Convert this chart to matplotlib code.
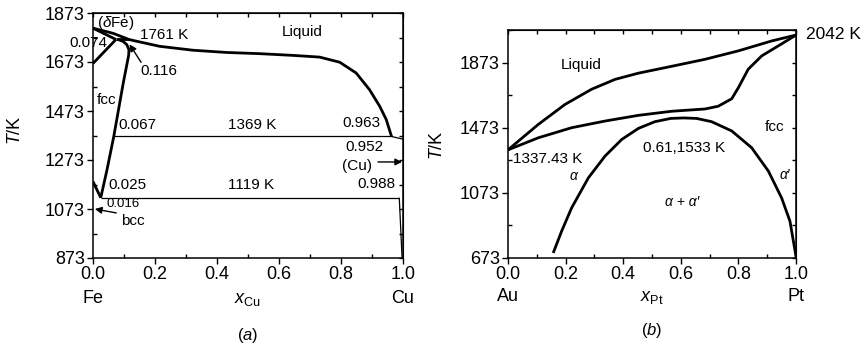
import matplotlib
matplotlib.use("Agg")
import matplotlib.pyplot as plt
from matplotlib.ticker import MultipleLocator, FixedLocator

plt.rcParams['font.family'] = ['Liberation Sans', 'DejaVu Sans']
plt.rcParams['mathtext.fontset'] = 'custom'
plt.rcParams['mathtext.rm'] = 'Liberation Sans'
plt.rcParams['mathtext.it'] = 'Liberation Sans:italic'
plt.rcParams['mathtext.bf'] = 'Liberation Sans:bold'

# ---------------- (a) Fe-Cu ----------------
fecu_liq_x = [0.0, 0.065, 0.116, 0.129, 0.215, 0.323, 0.43, 0.538, 0.645, 0.731, 0.796,
              0.849, 0.892, 0.925, 0.946, 0.963]
fecu_liq_T = [1811, 1790, 1765, 1761, 1737, 1721, 1712, 1707, 1700, 1693, 1672,
              1628, 1560, 1492, 1438, 1369]
fecu_liqcu_x = [0.963, 1.0]
fecu_liqcu_T = [1369, 1358]
fecu_dsol_x = [0.0, 0.074]
fecu_dsol_T = [1811, 1765]
fecu_dg_x = [0.0, 0.074]
fecu_dg_T = [1667, 1765]
fecu_perit_x = [0.074, 0.116]
fecu_perit_T = [1765, 1765]
fecu_fcc_x = [0.080, 0.097, 0.109, 0.116, 0.115, 0.098, 0.067, 0.045, 0.025]
fecu_fcc_T = [1765, 1757, 1744, 1723, 1700, 1590, 1369, 1232, 1119]
fecu_bcc_x = [0.0, 0.025]
fecu_bcc_T = [1185, 1119]
fecu_eut_x = [0.025, 0.988]
fecu_eut_T = [1119, 1119]
fecu_p2_x = [0.067, 0.963]
fecu_p2_T = [1369, 1369]
fecu_cusolv_x = [0.988, 0.997]
fecu_cusolv_T = [1119, 873]

# ---------------- (b) Au-Pt ----------------
aupt_liq_x = [0.0, 0.105, 0.198, 0.29, 0.372, 0.453, 0.568, 0.684, 0.8, 0.916, 1.0]
aupt_liq_T = [1337, 1493, 1616, 1709, 1770, 1808, 1850, 1893, 1945, 2006, 2042]
aupt_sol_x = [0.0, 0.105, 0.221, 0.337, 0.453, 0.568, 0.684, 0.73, 0.777, 0.8, 0.834,
              0.881, 0.939, 1.0]
aupt_sol_T = [1337, 1411, 1473, 1514, 1549, 1574, 1588, 1605, 1651, 1719, 1832,
              1914, 1976, 2042]
aupt_gap_x = [0.157, 0.186, 0.221, 0.279, 0.337, 0.395, 0.453, 0.51, 0.565, 0.61, 0.655,
              0.707, 0.777, 0.846, 0.904, 0.95, 0.979, 0.997, 1.0]
aupt_gap_T = [704, 837, 981, 1165, 1299, 1401, 1469, 1510, 1530, 1533, 1530,
              1510, 1453, 1350, 1207, 1042, 899, 714, 680]

THICK = 2.0
THIN = 0.9
TICKFS = 13
ANNFS = 11

fig = plt.figure(figsize=(8.68, 3.46), dpi=100)
ax1 = fig.add_axes([93/868, 88/346, 310/868, 245/346])
ax2 = fig.add_axes([508/868, 88/346, 288/868, 228/346])


def style_axes(ax, ymajor, yminor, ymirror):
    for s in ax.spines.values():
        s.set_linewidth(1.1)
    ax.set_xlim(0, 1)
    ax.xaxis.set_major_locator(FixedLocator([0.0, 0.2, 0.4, 0.6, 0.8, 1.0]))
    ax.xaxis.set_minor_locator(FixedLocator([0.1, 0.3, 0.5, 0.7, 0.9]))
    ax.set_xticklabels(['0.0', '0.2', '0.4', '0.6', '0.8', '1.0'])
    ax.yaxis.set_major_locator(FixedLocator(ymajor))
    ax.yaxis.set_minor_locator(FixedLocator(yminor))
    ax.tick_params(which='major', direction='out', length=4, width=1.0,
                   labelsize=TICKFS, pad=2)
    ax.tick_params(which='minor', direction='in', length=3, width=1.0)
    top = ax.secondary_xaxis('top')
    top.xaxis.set_major_locator(MultipleLocator(0.1))
    top.tick_params(direction='in', length=3, width=1.0, labeltop=False)
    right = ax.secondary_yaxis('right')
    right.yaxis.set_major_locator(FixedLocator(ymirror))
    right.tick_params(direction='in', length=3, width=1.0, labelright=False)


def curve(ax, x, y, lw):
    ax.plot(x, y, color='black', lw=lw, solid_joinstyle='round', solid_capstyle='butt')


# ---- panel (a)
ax1.set_ylim(873, 1873)
style_axes(ax1, [873, 1073, 1273, 1473, 1673, 1873],
           [973, 1173, 1373, 1573, 1773],
           list(range(873, 1874, 100)))
curve(ax1, fecu_liq_x, fecu_liq_T, THICK)
curve(ax1, fecu_liqcu_x, fecu_liqcu_T, THIN)
curve(ax1, fecu_dsol_x, fecu_dsol_T, THICK)
curve(ax1, fecu_dg_x, fecu_dg_T, THICK)
curve(ax1, fecu_perit_x, fecu_perit_T, THICK)
curve(ax1, fecu_fcc_x, fecu_fcc_T, THICK)
curve(ax1, fecu_bcc_x, fecu_bcc_T, THICK)
curve(ax1, fecu_eut_x, fecu_eut_T, THIN)
curve(ax1, fecu_p2_x, fecu_p2_T, THIN)
curve(ax1, fecu_cusolv_x, fecu_cusolv_T, THIN)

arrow = dict(arrowstyle='-|>', color='black', lw=1.0, mutation_scale=10, shrinkA=0, shrinkB=0)
ax1.text(0.013, 1832, r'($\delta$Fe)', fontsize=ANNFS, ha='left', va='center')
ax1.text(0.152, 1783, '1761 K', fontsize=ANNFS, ha='left', va='center')
ax1.text(0.674, 1795, 'Liquid', fontsize=ANNFS, ha='center', va='center')
ax1.text(0.045, 1751, '0.074', fontsize=ANNFS, ha='right', va='center', clip_on=False)
ax1.text(0.152, 1636, '0.116', fontsize=ANNFS, ha='left', va='center')
ax1.annotate('', xy=(0.118, 1745), xytext=(0.155, 1672), arrowprops=arrow)
ax1.text(0.013, 1518, 'fcc', fontsize=ANNFS, ha='left', va='center')
ax1.text(0.081, 1416, '0.067', fontsize=ANNFS, ha='left', va='center')
ax1.text(0.514, 1416, '1369 K', fontsize=ANNFS, ha='center', va='center')
ax1.text(0.926, 1424, '0.963', fontsize=ANNFS, ha='right', va='center')
ax1.text(0.874, 1326, '0.952', fontsize=ANNFS, ha='center', va='center')
ax1.text(0.852, 1249, '(Cu)', fontsize=ANNFS, ha='center', va='center')
ax1.annotate('', xy=(0.997, 1265), xytext=(0.919, 1265), arrowprops=arrow)
ax1.text(0.913, 1175, '0.988', fontsize=ANNFS, ha='center', va='center')
ax1.text(0.110, 1171, '0.025', fontsize=ANNFS, ha='center', va='center')
ax1.text(0.510, 1171, '1119 K', fontsize=ANNFS, ha='center', va='center')
ax1.text(0.097, 1092, '0.016', fontsize=9.5, ha='center', va='center')
ax1.text(0.129, 1026, 'bcc', fontsize=ANNFS, ha='center', va='center')
ax1.annotate('', xy=(0.006, 1073), xytext=(0.075, 1057), arrowprops=arrow)

xt1 = ax1.get_xaxis_transform()
ax1.text(0.0, -0.167, 'Fe', transform=xt1, fontsize=TICKFS, ha='center', va='center')
ax1.text(1.0, -0.167, 'Cu', transform=xt1, fontsize=TICKFS, ha='center', va='center')
ax1.text(0.5, -0.17, r'$x_{\mathrm{Cu}}$', transform=xt1, fontsize=TICKFS, ha='center', va='center')
ax1.text(0.5, -0.318, r'($a$)', transform=xt1, fontsize=12, ha='center', va='center')
fig.text(15/868, 1 - 130/346, r'$T$/K', rotation=90, fontsize=TICKFS, ha='center', va='center')

# ---- panel (b)
ax2.set_ylim(673, 2073)
style_axes(ax2, [673, 1073, 1473, 1873], [873, 1273, 1673, 2073],
           list(range(673, 2074, 200)))
curve(ax2, aupt_liq_x, aupt_liq_T, THICK)
curve(ax2, aupt_sol_x, aupt_sol_T, THICK)
curve(ax2, aupt_gap_x, aupt_gap_T, THICK)

ax2.text(0.253, 1861, 'Liquid', fontsize=ANNFS, ha='center', va='center')
ax2.text(0.137, 1282, '1337.43 K', fontsize=ANNFS, ha='center', va='center')
ax2.text(0.226, 1178, 'α', fontsize=10, fontstyle='italic', ha='center', va='center')
ax2.text(0.612, 1350, '0.61,1533 K', fontsize=ANNFS, ha='center', va='center')
ax2.text(0.924, 1479, 'fcc', fontsize=ANNFS, ha='center', va='center')
ax2.text(0.962, 1184, 'α′', fontsize=10, fontstyle='italic', ha='center', va='center')
ax2.text(0.605, 1018, 'α + α′', fontsize=10, fontstyle='italic', ha='center', va='center')
ax2.text(1.035, 2045, '2042 K', fontsize=12.5, ha='left', va='center', clip_on=False)

xt2 = ax2.get_xaxis_transform()
ax2.text(0.0, -0.167, 'Au', transform=xt2, fontsize=TICKFS, ha='center', va='center')
ax2.text(1.0, -0.167, 'Pt', transform=xt2, fontsize=TICKFS, ha='center', va='center')
ax2.text(0.5, -0.175, r'$x_{\mathrm{Pt}}$', transform=xt2, fontsize=TICKFS, ha='center', va='center')
ax2.text(0.5, -0.316, r'($b$)', transform=xt2, fontsize=12, ha='center', va='center')
fig.text(437/868, 1 - 145/346, r'$T$/K', rotation=90, fontsize=TICKFS, ha='center', va='center')

fig.savefig('out.png', dpi=100)
